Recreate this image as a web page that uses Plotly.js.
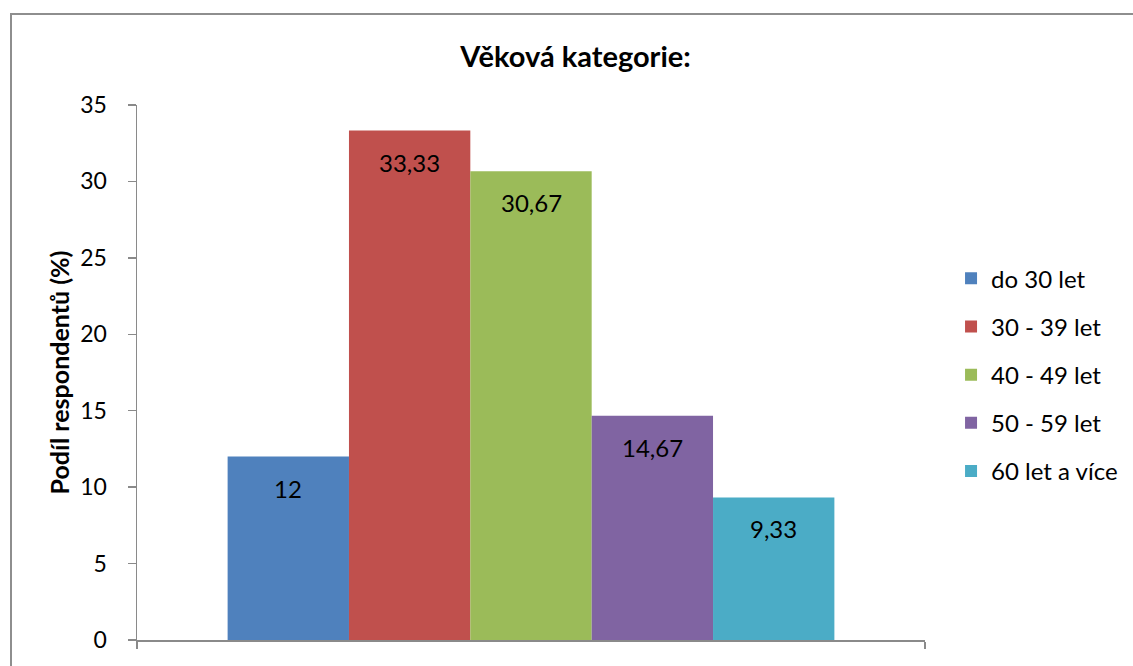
<!DOCTYPE html>
<html><head><meta charset="utf-8">
<script src="https://cdn.plot.ly/plotly-3.0.1.min.js"></script>
<style>
html,body{margin:0;padding:0;background:#fff;}
#chart{width:1133px;height:666px;position:absolute;left:0;top:0;}
#frame{position:absolute;left:10px;top:13px;width:1200px;height:720px;border:2px solid #8e8e8e;box-sizing:border-box;pointer-events:none;}
</style>
</head><body>
<div id="chart"></div><div id="frame"></div>
<script>
const categories = ['do 30 let', '30 - 39 let', '40 - 49 let', '50 - 59 let', '60 let a více'];
const values = [12, 33.33, 30.67, 14.67, 9.33];
const colors = ['#4F81BD', '#C0504D', '#9BBB59', '#8064A2', '#4BACC6'];
const yTicks = [0, 5, 10, 15, 20, 25, 30, 35];
const chartTitle = 'Věková kategorie:';
const yTitle = 'Podíl respondentů (%)';

const FONT = 'Lato, "Open Sans", sans-serif';
const groupWidth = 0.77;
const w = groupWidth / values.length;
const fmt = v => String(v).replace('.', ',');

const traces = categories.map((c, i) => ({
  type: 'bar',
  name: c,
  x: [0],
  y: [values[i]],
  width: w,
  offset: -groupWidth / 2 + i * w,
  marker: {color: colors[i], line: {width: 0}},
  legendgroup: 'g' + i,
  hoverinfo: 'skip'
}));

const annotations = values.map((v, i) => ({
  x: -groupWidth / 2 + i * w + w / 2,
  y: v,
  xref: 'x', yref: 'y',
  text: fmt(v),
  showarrow: false,
  yanchor: 'top',
  yshift: -15,
  font: {family: FONT, size: 24, color: '#000'}
}));

const layout = {
  width: 1133, height: 666,
  margin: {l: 137, r: 208, t: 105, b: 26, autoexpand: false},
  paper_bgcolor: 'rgba(0,0,0,0)',
  plot_bgcolor: 'rgba(0,0,0,0)',
  barmode: 'overlay',
  font: {family: FONT, color: '#000'},
  title: {
    text: '<b>' + chartTitle + '</b>',
    font: {family: FONT, size: 29, color: '#000'},
    x: 0.508, xanchor: 'center', xref: 'container',
    y: 0.915, yanchor: 'middle', yref: 'container'
  },
  xaxis: {
    type: 'linear', range: [-0.5, 0.5],
    tickvals: [-0.5, 0.5], showticklabels: false,
    ticks: 'outside', ticklen: 7, tickwidth: 1.5, tickcolor: '#8a8a8a',
    showline: true, linecolor: '#8a8a8a', linewidth: 1.5,
    showgrid: false, zeroline: false, fixedrange: true
  },
  yaxis: {
    range: [0, 35], tickvals: yTicks, ticktext: yTicks.map(String),
    ticks: 'outside', ticklen: 8, tickwidth: 1.5, tickcolor: '#8a8a8a',
    ticklabelstandoff: 16,
    tickfont: {family: FONT, size: 23, color: '#000'},
    showline: true, linecolor: '#8a8a8a', linewidth: 1.5,
    showgrid: false, zeroline: false, fixedrange: true,
    title: {text: '<b>' + yTitle + '</b>', font: {family: FONT, size: 25, color: '#000'}, standoff: 3}
  },
  legend: {
    xref: 'container', x: 0.8394, xanchor: 'left',
    y: 0.496, yanchor: 'middle',
    font: {family: FONT, size: 24, color: '#000'},
    traceorder: 'grouped', tracegroupgap: 14,
    bgcolor: 'rgba(0,0,0,0)'
  },
  annotations: annotations,
  showlegend: true
};

Plotly.newPlot('chart', traces, layout, {staticPlot: true, displayModeBar: false});
</script>
</body></html>
